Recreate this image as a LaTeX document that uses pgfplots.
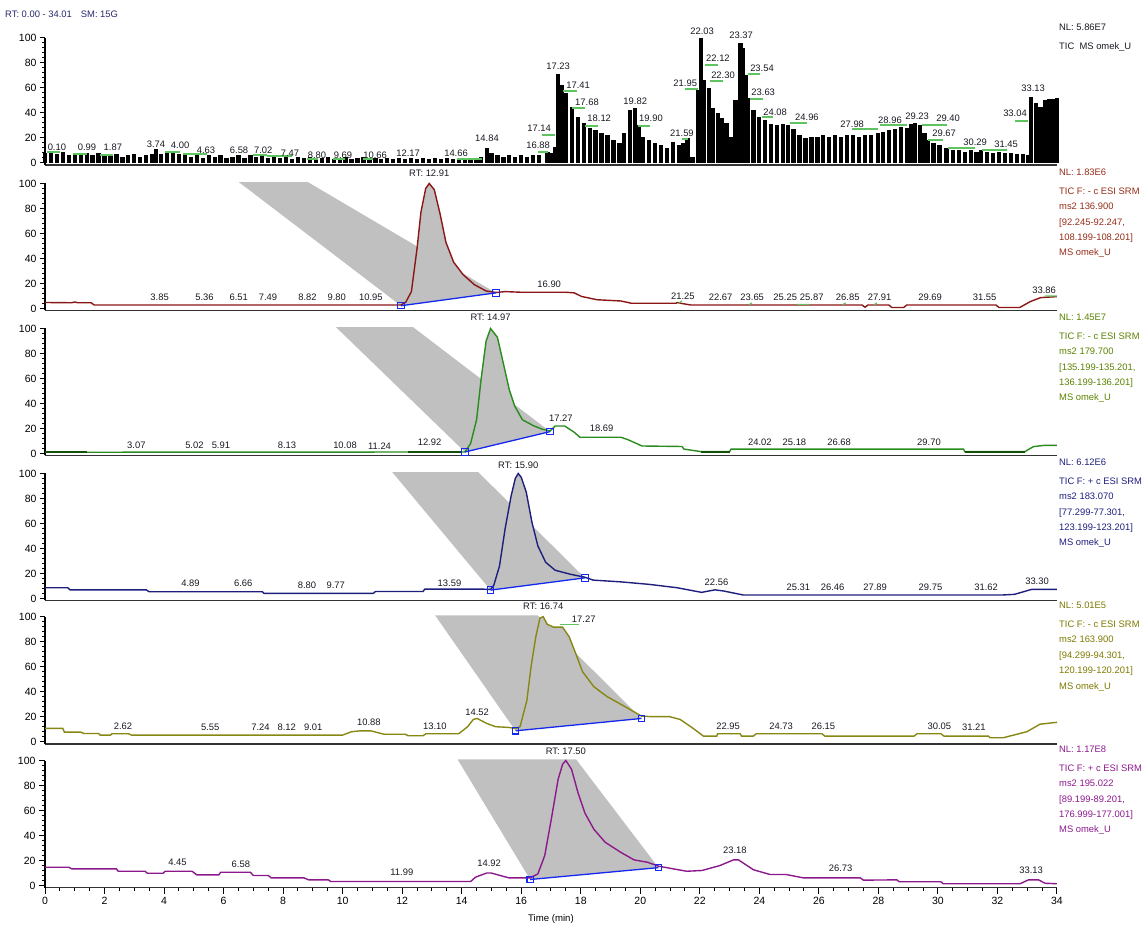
\documentclass[border=0pt]{standalone}
\usepackage{fontspec}
\setmainfont{Liberation Sans}
\usepackage{pgfplots}
\pgfplotsset{compat=1.18}

\definecolor{cRed}{RGB}{140,22,22}
\definecolor{cRedT}{RGB}{150,45,25}
\definecolor{cGreen}{RGB}{40,140,30}
\definecolor{cGreenD}{RGB}{20,80,10}
\definecolor{cGreenT}{RGB}{90,130,0}
\definecolor{cNavy}{RGB}{30,30,125}
\definecolor{cOlive}{RGB}{135,135,20}
\definecolor{cOliveT}{RGB}{125,120,0}
\definecolor{cPurple}{RGB}{140,25,140}
\definecolor{cBlue}{RGB}{20,40,240}
\definecolor{cShade}{RGB}{192,192,192}
\definecolor{cMark}{RGB}{95,195,95}
\definecolor{cInk}{RGB}{25,25,35}
\definecolor{cHead}{RGB}{40,40,110}

\newcommand{\lab}{\fontsize{9.4}{11}\selectfont}
\newcommand{\side}{\fontsize{9.4}{15.4}\selectfont}

\tikzset{
  nl/.style={anchor=west, inner sep=0pt, font=\lab, xshift=2pt, yshift=11pt},
  info/.style={anchor=north west, align=left, inner sep=0pt, font=\side, xshift=2pt, yshift=-4pt},
}

\pgfplotsset{
  panel/.style={
    scale only axis, width=1012pt, height=127pt,
    xmin=0, xmax=34, ymin=-1.6, ymax=100,
    axis x line=bottom, axis y line=left,
    axis line style={-},
    x axis line style={line width=1.7pt, draw=black!80},
    y axis line style={line width=1.3pt, draw=black},
    ytick={0,20,...,100}, minor y tick num=4,
    xtick=\empty,
    tick align=outside,
    major tick length=5pt, minor tick length=3pt,
    every tick/.style={black, line width=1pt},
    /pgf/number format/assume math mode=true,
    tick label style={font=\fontsize{10.5}{12}\selectfont},
    clip=false,
    anchor=south west, at={(45pt,#1)},
  },
  lbl/.style={draw=none, mark=none, nodes near coords, point meta=explicit symbolic,
    every node near coord/.append style={anchor=center, inner sep=0pt, font=\lab, text=cInk}},
  seg/.style={cMark, line width=1.2pt, unbounded coords=jump},
  base/.style={cBlue, line width=1.3pt, mark=square, mark size=3.2pt,
    mark options={solid, fill=white, line width=1.1pt}},
  shade/.style={fill=cShade, draw=none},
}

\begin{document}
\begin{tikzpicture}
\useasboundingbox (0pt,0pt) rectangle (1148pt,932pt);

% ---------------- total ion current ----------------
\begin{axis}[panel=767pt]
\addplot[ycomb, black, line width=4.3pt] table {
0.0 8
0.2 9
0.4 7
0.6 9
0.8 6
1.0 8
1.2 7
1.4 8
1.6 6
1.8 8
2.0 7
2.2 6
2.4 7
2.6 5
2.8 6
3.0 7
3.2 5
3.4 6
3.6 7
3.74 11
3.9 7
4.1 9
4.3 8
4.5 7
4.7 8
4.9 5
5.1 6
5.3 4
5.5 6
5.7 5
5.9 6
6.1 4
6.3 5
6.5 6
6.7 4
6.9 6
7.1 5
7.3 6
7.5 4
7.7 5
7.9 4
8.1 5
8.3 3
8.5 5
8.7 4
8.9 5
9.1 3
9.3 4
9.5 5
9.7 3
9.9 4
10.1 5
10.3 3
10.5 4
10.7 5
10.9 3
11.1 4
11.3 3
11.5 4
11.7 3
11.9 4
12.1 3
12.3 4
12.5 3
12.7 4
12.9 3
13.1 4
13.3 3
13.5 4
13.7 3
13.9 4
14.1 3
14.3 4
14.5 4
14.66 5
14.84 12
15.0 8
15.2 6
15.4 5
15.6 6
15.8 5
16.0 6
16.2 5
16.4 6
16.6 6
16.88 9
17.0 8
17.14 13
17.23 71
17.35 62
17.5 56
17.7 45
17.9 37
18.1 32
18.3 28
18.5 26
18.7 24
18.9 22
19.1 18
19.3 16
19.45 24
19.65 42
19.82 44
19.95 30
20.1 21
20.3 18
20.5 16
20.7 14
20.9 12
21.1 17
21.3 14
21.45 16
21.59 20
21.75 5
21.95 58
22.03 100
22.12 66
22.3 60
22.45 44
22.6 40
22.75 36
22.9 32
23.05 21
23.2 50
23.37 96
23.45 92
23.54 70
23.63 52
23.8 42
24.0 37
24.2 34
24.4 31
24.6 30
24.8 31
24.96 30
25.15 27
25.35 22
25.55 20
25.75 21
25.95 21
26.15 22
26.35 21
26.55 22
26.75 21
26.95 22
27.15 22
27.35 21
27.55 22
27.75 22
27.98 24
28.15 25
28.35 26
28.55 27
28.75 29
28.96 28
29.1 31
29.23 32
29.4 30
29.55 24
29.67 18
29.85 16
30.05 14
30.29 12
30.5 10
30.7 10
30.9 9
31.1 10
31.3 9
31.45 10
31.65 9
31.85 8
32.05 9
32.25 8
32.45 8
32.65 7
32.85 7
33.04 6
33.13 53
33.3 48
33.45 45
33.6 50
33.75 51
33.9 51
34.0 52
};
\addplot[seg] coordinates {
(0.07,8.8) (0.50,8.8) (nan,nan)
(0.94,7.2) (1.41,7.2) (nan,nan)
(1.85,6.4) (2.28,6.4) (nan,nan)
(4.03,8.8) (4.54,8.8) (nan,nan)
(4.64,7.2) (5.44,7.2) (nan,nan)
(6.99,6.4) (7.46,6.4) (nan,nan)
(7.46,5.6) (8.30,5.6) (nan,nan)
(8.80,3.2) (9.17,3.2) (nan,nan)
(9.68,3.2) (10.08,3.2) (nan,nan)
(10.69,3.2) (11.02,3.2) (nan,nan)
(13.84,3.2) (14.68,3.2) (nan,nan)
(16.57,8.8) (16.90,8.8) (nan,nan)
(16.70,22.4) (17.14,22.4) (nan,nan)
(17.41,57.6) (17.88,57.6) (nan,nan)
(17.71,44) (18.15,44) (nan,nan)
(18.15,29.6) (18.58,29.6) (nan,nan)
(19.93,29.6) (20.33,29.6) (nan,nan)
(21.40,19.2) (21.61,19.2) (nan,nan)
(21.51,59.2) (21.94,59.2) (nan,nan)
(22.18,78.4) (22.61,78.4) (nan,nan)
(22.35,65.6) (22.78,65.6) (nan,nan)
(23.62,71.2) (24.03,71.2) (nan,nan)
(23.69,51.2) (24.13,51.2) (nan,nan)
(24.09,36.8) (24.46,36.8) (nan,nan)
(25.03,32) (25.60,32) (nan,nan)
(27.12,27.2) (27.99,27.2) (nan,nan)
(28.06,30.4) (28.97,30.4) (nan,nan)
(29.47,30.4) (30.31,30.4) (nan,nan)
(29.67,18.4) (30.17,18.4) (nan,nan)
(30.34,12) (31.25,12) (nan,nan)
(31.48,10.4) (32.33,10.4) (nan,nan)
(32.59,33.6) (33.03,33.6)
};
\addplot[lbl] table[col sep=comma, row sep=\\, meta=l] {
x,y,l\\
0.40,12.8,0.10\\
1.41,12.8,0.99\\
2.28,12.8,1.87\\
3.73,15.2,3.74\\
4.54,14.4,4.00\\
5.41,10.4,4.63\\
6.52,10.4,6.58\\
7.33,10.4,7.02\\
8.23,8,7.47\\
9.14,6.4,8.80\\
10.01,6.4,9.69\\
11.09,6.4,10.66\\
12.20,8,12.17\\
13.81,8,14.66\\
14.85,20,14.84\\
16.57,14.4,16.88\\
16.60,28,17.14\\
17.24,77.6,17.23\\
17.91,62.4,17.41\\
18.21,48.8,17.68\\
18.62,36,18.12\\
19.83,49.6,19.82\\
20.36,36,19.90\\
21.40,24,21.59\\
21.51,64,21.95\\
22.08,105.6,22.03\\
22.61,84,22.12\\
22.78,70.4,22.30\\
23.39,102.4,23.37\\
24.09,76,23.54\\
24.13,56.8,23.63\\
24.53,40.8,24.08\\
25.60,36.8,24.96\\
27.12,31.2,27.98\\
28.39,34.4,28.96\\
29.30,37.6,29.23\\
30.34,36,29.40\\
30.21,24,29.67\\
31.25,16.8,30.29\\
32.29,15.2,31.45\\
32.59,40,33.04\\
33.20,60,33.13\\
};
\node[nl, text=cInk] at (rel axis cs:1,1) {NL: 5.86E7};
\node[info, text=cInk] at (rel axis cs:1,1) {TIC\ \ MS omek\_U};
\end{axis}

% ---------------- m/z 136.900 ----------------
\begin{axis}[panel=621.5pt]
\addplot[shade] coordinates {(6.52,101) (8.84,101) (15.15,12.5) (11.96,2.2)} -- cycle;
\addplot[shade] coordinates {
(11.96,2.2) (12.12,5) (12.31,13.5) (12.5,48) (12.63,77) (12.79,96) (12.91,100)
(13.08,95) (13.28,75) (13.47,53) (13.73,37) (14.05,27) (14.43,19) (14.82,14) (15.15,12.5)} -- cycle;
\addplot[cRed, line width=1.4pt] coordinates {
(0,4.8) (0.9,4.6) (1.0,5.2) (1.1,4.6) (1.55,4.6) (1.65,2.8) (11.96,2.8)
(12.12,5) (12.31,13.5) (12.5,48) (12.63,77) (12.79,96) (12.91,100)
(13.08,95) (13.28,75) (13.47,53) (13.73,37) (14.05,27) (14.43,19) (14.82,14)
(15.15,12.8) (15.46,13.5) (16.0,13) (16.9,13) (17.5,13) (17.78,12.5) (18.03,9.6)
(18.55,7) (19.35,6) (19.7,4.2) (20.77,4.2) (21.2,4.2) (21.25,4.8) (21.35,4.2)
(21.7,2.8) (27.45,2.8) (27.55,1) (27.65,2.8) (28.35,2.8) (28.45,0.8) (28.85,0.8)
(28.95,2.8) (31.95,2.8) (32.05,0.8) (32.75,0.8) (33.1,5.5) (33.45,8.7) (34,9.5)};
\addplot[base] coordinates {(11.96,2.2) (15.15,12.5)};
\addplot[seg] coordinates {
(21.30,4.5) (21.40,6) (nan,nan)
(23.65,3) (23.75,4.5) (nan,nan)
(25.26,3.3) (25.67,3.3) (nan,nan)
(26.80,3) (26.90,4.5) (nan,nan)
(27.85,3) (27.95,4.5) (nan,nan)
(33.60,10) (34.00,10)};
\addplot[lbl] table[col sep=comma, row sep=\\, meta=l] {
x,y,l\\
3.85,8.6,3.85\\
5.36,8.6,5.36\\
6.51,8.6,6.51\\
7.49,8.6,7.49\\
8.82,8.6,8.82\\
9.80,8.6,9.80\\
10.95,8.6,10.95\\
12.91,108,RT: 12.91\\
16.94,19,16.90\\
21.43,10,21.25\\
22.70,8.7,22.67\\
23.76,8.7,23.65\\
24.87,8.7,25.25\\
25.76,8.7,25.87\\
26.97,8.7,26.85\\
28.04,8.7,27.91\\
29.74,8.7,29.69\\
31.57,8.7,31.55\\
33.57,14.8,33.86\\
};
\node[nl, text=cRedT] at (rel axis cs:1,1) {NL: 1.83E6};
\node[info, text=cRedT] at (rel axis cs:1,1) {TIC F: - c ESI SRM\\ms2 136.900\\{[}92.245-92.247,\\108.199-108.201]\\MS omek\_U};
\end{axis}

% ---------------- m/z 179.700 ----------------
\begin{axis}[panel=476.5pt]
\addplot[shade] coordinates {(9.78,101) (12.37,101) (16.97,17.5) (14.11,1.2)} -- cycle;
\addplot[shade] coordinates {
(14.11,1.2) (14.3,8) (14.5,27) (14.66,61) (14.82,90) (14.97,100) (15.2,93)
(15.4,72) (15.6,51) (15.78,38) (16.04,27) (16.43,22) (16.7,19.5) (16.97,17.5)} -- cycle;
\addplot[cGreen, line width=1.4pt] coordinates {
(0,1) (14.11,1.2) (14.3,8) (14.5,27) (14.66,61) (14.82,90) (14.97,100) (15.2,93)
(15.4,72) (15.6,51) (15.78,38) (16.04,27) (16.43,22) (16.7,19.5) (16.97,18)
(17.14,22) (17.46,22) (17.78,17) (17.97,13) (18.65,13) (19.35,13) (19.59,11)
(20.06,6) (21.4,5.6) (21.47,3.5) (22.04,1.5) (23.0,1.5) (23.05,3.5) (30.86,3.5)
(30.9,1.5) (32.92,1.5) (33.21,5.5) (33.57,6.5) (34,6.5)};
\addplot[cGreenD, line width=2pt, unbounded coords=jump] coordinates {
(0,1) (1.4,1) (nan,nan) (12.2,1.1) (14.0,1.1) (nan,nan)
(22.04,1.5) (23.0,1.5) (nan,nan) (30.9,1.5) (32.92,1.5)};
\addplot[base] coordinates {(14.11,1.2) (16.97,17.5)};
\addplot[lbl] table[col sep=comma, row sep=\\, meta=l] {
x,y,l\\
3.07,6.2,3.07\\
5.02,6.2,5.02\\
5.91,6.2,5.91\\
8.13,6.2,8.13\\
10.08,6.2,10.08\\
11.24,6.2,11.24\\
12.92,9.2,12.92\\
14.97,109,RT: 14.97\\
17.33,28,17.27\\
18.70,20.4,18.69\\
24.02,8.6,24.02\\
25.18,8.6,25.18\\
26.68,8.6,26.68\\
29.70,8.6,29.70\\
};
\node[nl, text=cGreenT] at (rel axis cs:1,1) {NL: 1.45E7};
\node[info, text=cGreenT] at (rel axis cs:1,1) {TIC F: - c ESI SRM\\ms2 179.700\\{[}135.199-135.201,\\136.199-136.201]\\MS omek\_U};
\end{axis}

% ---------------- m/z 183.070 ----------------
\begin{axis}[panel=331.5pt]
\addplot[shade] coordinates {(11.67,101) (14.56,101) (18.14,16.5) (14.97,6.7)} -- cycle;
\addplot[shade] coordinates {
(14.97,6.7) (15.08,10.7) (15.27,26) (15.46,56) (15.66,82) (15.8,96) (15.9,100)
(16.0,97) (16.17,85) (16.36,61) (16.56,42) (16.82,29) (17.14,22.6) (17.65,19.4) (18.14,16.5)} -- cycle;
\addplot[cNavy, line width=1.4pt] coordinates {
(0,8.6) (0.77,8.6) (0.84,6.9) (3.4,6.9) (3.5,5.4) (7.3,5.4) (7.36,4.1) (11.03,4.1)
(11.1,5.6) (12.7,5.6) (12.76,7.5) (14.7,7.5) (14.97,7.2) (15.08,10.7) (15.27,26)
(15.46,56) (15.66,82) (15.8,96) (15.9,100) (16.0,97) (16.17,85) (16.36,61)
(16.56,42) (16.82,29) (17.14,22.6) (17.65,19.4) (18.14,17) (18.42,14.7)
(19.35,13.3) (20.3,11.3) (21.24,8.6) (22.06,4.9) (22.3,6) (22.51,6.9) (22.8,6)
(23.46,2.8) (32.16,2.8) (32.57,3.3) (33.15,7.3) (34,7.3)};
\addplot[base] coordinates {(14.97,6.7) (18.14,16.5)};
\addplot[lbl] table[col sep=comma, row sep=\\, meta=l] {
x,y,l\\
4.89,12.2,4.89\\
6.66,12.2,6.66\\
8.80,10.8,8.80\\
9.77,10.8,9.77\\
13.59,12.2,13.59\\
15.90,106.8,RT: 15.90\\
22.56,12.6,22.56\\
25.31,8.6,25.31\\
26.46,8.6,26.46\\
27.89,8.6,27.89\\
29.75,8.6,29.75\\
31.62,8.6,31.62\\
33.33,13.4,33.30\\
};
\node[nl, text=cNavy] at (rel axis cs:1,1) {NL: 6.12E6};
\node[info, text=cNavy] at (rel axis cs:1,1) {TIC F: + c ESI SRM\\ms2 183.070\\{[}77.299-77.301,\\123.199-123.201]\\MS omek\_U};
\end{axis}

% ---------------- m/z 163.900 ----------------
\begin{axis}[panel=188.3pt]
\addplot[shade] coordinates {(13.11,101) (16.56,101) (20.04,18.6) (15.81,8.7)} -- cycle;
\addplot[shade] coordinates {
(15.81,8.7) (15.96,12) (16.19,33) (16.33,60) (16.49,84) (16.63,99) (16.74,100)
(16.87,94) (17.09,91.6) (17.39,91.6) (17.61,84) (17.84,70) (18.06,56) (18.44,44)
(18.89,36) (19.49,28) (20.04,18.6)} -- cycle;
\addplot[cOlive, line width=1.4pt] coordinates {
(0,10.6) (0.6,10.6) (0.65,7.7) (1.2,7.7) (1.3,6.6) (1.8,6.6) (1.85,5.3) (2.2,5.3)
(2.25,6.4) (2.8,6.4) (2.9,5.3) (10.0,5.3) (10.3,8) (10.6,8.7) (10.95,8.7)
(11.3,6.5) (11.4,6) (12.1,6) (12.2,4.8) (12.7,4.8) (12.8,6.4) (13.9,6.4)
(14.2,12) (14.39,17.8) (14.52,18.6) (14.84,14.6) (15.14,12) (15.59,11.4)
(15.81,10.5) (15.96,12) (16.19,33) (16.33,60) (16.49,84) (16.63,99) (16.74,100)
(16.87,94) (17.09,91.6) (17.39,91.6) (17.61,84) (17.84,70) (18.06,56) (18.44,44)
(18.89,36) (19.49,28) (20.04,20.5) (20.39,20) (20.99,20) (21.34,17.8)
(21.78,10.6) (22.12,4.5) (22.57,4.5) (22.6,6.4) (23.36,6.4) (23.4,4.5)
(23.8,4.5) (23.9,6.4) (26.1,6.4) (26.2,4.5) (29.2,4.5) (29.3,6.4) (30.1,6.4)
(30.2,4.5) (31.7,4.5) (31.75,3.2) (32.2,3.2) (32.99,8) (33.43,14) (33.8,15) (34,15.5)};
\addplot[base] coordinates {(15.81,8.7) (20.04,18.6)};
\addplot[seg] coordinates {(17.30,93.5) (17.95,93.5)};
\addplot[lbl] table[col sep=comma, row sep=\\, meta=l] {
x,y,l\\
2.62,12.6,2.62\\
5.55,11.2,5.55\\
7.24,11.2,7.24\\
8.12,11.2,8.12\\
9.01,11.2,9.01\\
10.88,15.2,10.88\\
13.10,12.6,13.10\\
14.52,23.2,14.52\\
16.74,108.6,RT: 16.74\\
18.10,98,17.27\\
22.95,12.6,22.95\\
24.73,12.6,24.73\\
26.15,12.6,26.15\\
30.05,12.6,30.05\\
31.21,11.2,31.21\\
};
\node[nl, text=cOliveT] at (rel axis cs:1,1) {NL: 5.01E5};
\node[info, text=cOliveT] at (rel axis cs:1,1) {TIC F: - c ESI SRM\\ms2 163.900\\{[}94.299-94.301,\\120.199-120.201]\\MS omek\_U};
\end{axis}

% ---------------- m/z 195.022 ----------------
\begin{axis}[panel=44.5pt,
  xtick={0,2,...,34}, minor x tick num=3,
  major tick length=6pt, minor tick length=3.5pt,
  xlabel={Time (min)},
  xlabel style={font=\fontsize{9.6}{11}\selectfont, yshift=-3pt}]
\addplot[shade] coordinates {(13.86,101) (17.84,101) (20.61,14.3) (16.3,4.8)} -- cycle;
\addplot[shade] coordinates {
(16.3,4.8) (16.56,9.3) (16.79,24) (17.01,53) (17.24,85) (17.39,97) (17.5,100)
(17.69,93) (17.91,74) (18.14,58) (18.44,45) (18.82,34.6) (19.34,26.6)
(19.79,20.5) (20.24,18.6) (20.61,14.3)} -- cycle;
\addplot[cPurple, line width=1.4pt] coordinates {
(0,14.6) (0.8,14.6) (0.9,13.3) (2.4,13.3) (2.46,11.4) (3.36,11.4) (3.44,9.8)
(3.97,9.8) (4.04,11.4) (4.94,11.4) (5.1,8.5) (5.84,8.5) (5.9,10.6) (6.9,10.6)
(7.0,8) (7.5,8) (7.6,6.1) (8.7,6.1) (8.86,4.5) (9.52,4.5) (9.6,3.2) (14.3,3.2)
(14.46,6.6) (14.84,10) (14.99,10) (15.29,8) (15.59,6.1) (16.3,6.1) (16.56,9.3)
(16.79,24) (17.01,53) (17.24,85) (17.39,97) (17.5,100) (17.69,93) (17.91,74)
(18.14,58) (18.44,45) (18.82,34.6) (19.34,26.6) (19.79,20.5) (20.24,18.6)
(20.61,15.5) (21.11,13.3) (21.56,11.4) (22.07,12) (22.68,16) (23.13,20.5)
(23.3,20.5) (23.8,12.6) (24.36,8.8) (24.9,8.8) (25.48,6.1) (27.39,6.1)
(27.5,4.3) (28.62,4.5) (28.7,3) (30.1,3) (30.18,1.4) (32.76,1.4) (33.04,4.5)
(33.38,4.5) (33.6,1.8) (34,1.4)};
\addplot[base] coordinates {(16.3,4.8) (20.61,14.3)};
\addplot[lbl] table[col sep=comma, row sep=\\, meta=l] {
x,y,l\\
4.45,18.6,4.45\\
6.58,17.2,6.58\\
11.99,10.2,11.99\\
14.92,17.4,14.92\\
17.50,107.6,RT: 17.50\\
23.18,27.8,23.18\\
26.73,13.8,26.73\\
33.13,11.8,33.13\\
};
\node[nl, text=cPurple] at (rel axis cs:1,1) {NL: 1.17E8};
\node[info, text=cPurple] at (rel axis cs:1,1) {TIC F: + c ESI SRM\\ms2 195.022\\{[}89.199-89.201,\\176.999-177.001]\\MS omek\_U};
\end{axis}

\node[anchor=west, inner sep=0pt, font=\lab, text=cHead] at (5pt,918pt) {RT: 0.00 - 34.01\hspace{9pt}SM: 15G};
\end{tikzpicture}
\end{document}
